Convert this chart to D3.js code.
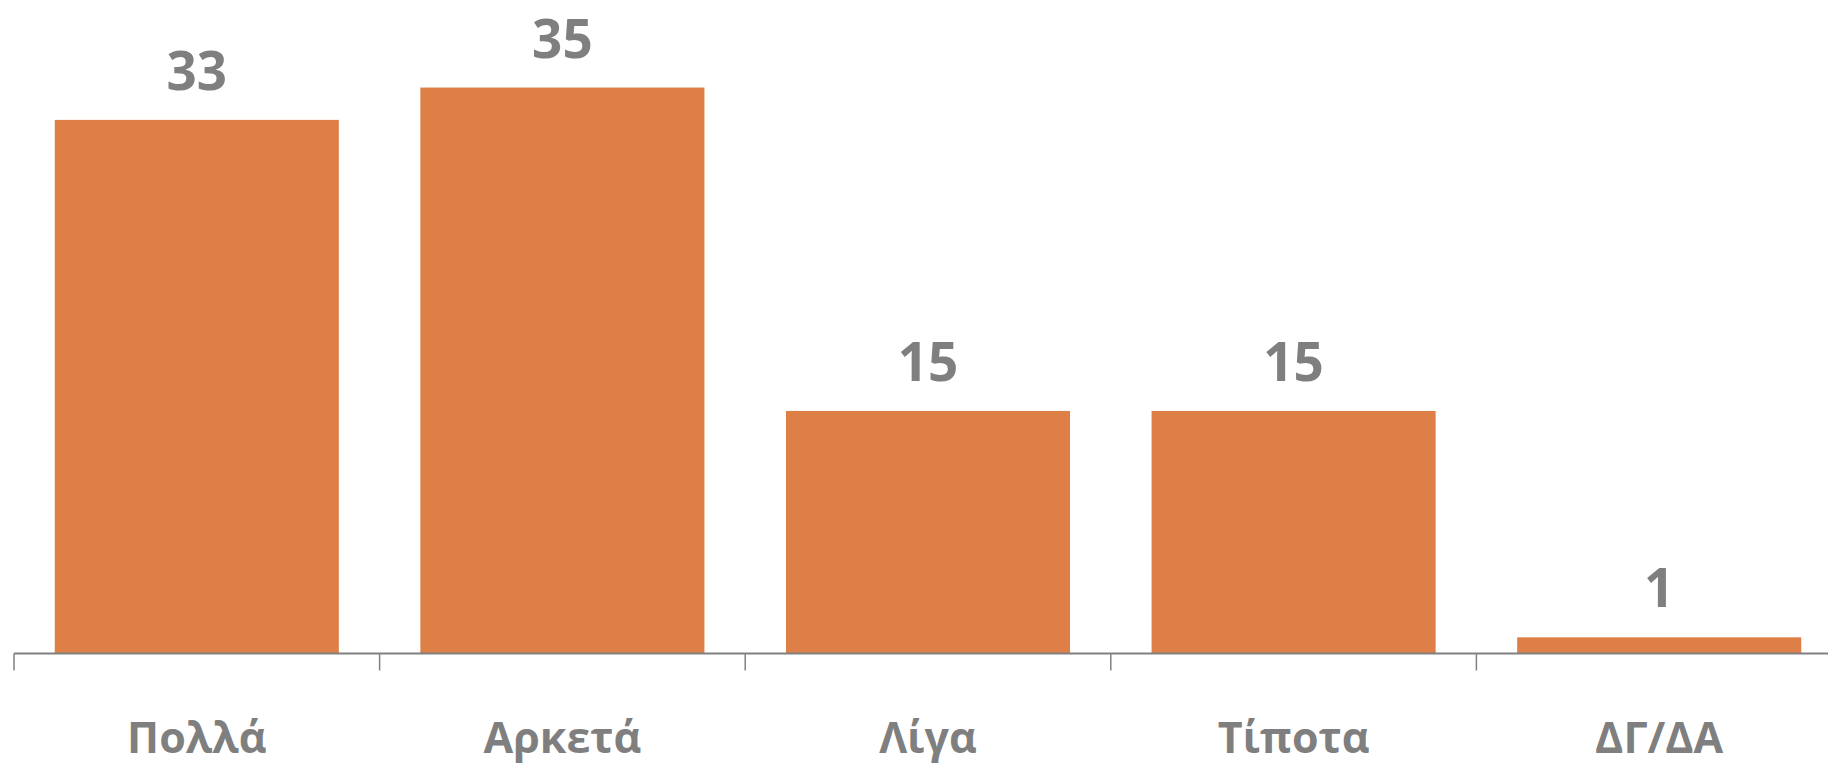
<!DOCTYPE html>
<html>
<head>
<meta charset="utf-8">
<script src="https://cdn.jsdelivr.net/npm/d3@7"></script>
<style>
  html, body { margin: 0; padding: 0; background: #fff; overflow: hidden; }
  text { font-family: "Open Sans", "Noto Sans", sans-serif; font-weight: bold; fill: #7f7f7f; }
</style>
</head>
<body>
<svg id="chart"></svg>
<script>
(function () {
    'use strict';

    var categories = ['Πολλά', 'Αρκετά', 'Λίγα', 'Τίποτα', 'ΔΓ/ΔΑ'];
    var values = [33, 35, 15, 15, 1];

    var width = 1828, height = 763;
    var axisY = 653.5;

    var svg = d3.select('#chart')
        .attr('width', width)
        .attr('height', height);

    var data = categories.map((c, i) => ({ name: c, value: values[i] }));

    // band scale runs a little past the right edge, like the original
    var x = d3.scaleBand()
        .domain(categories)
        .range([14, 1842])
        .paddingInner(0.223)
        .paddingOuter(0.1115);

    var y = d3.scaleLinear()
        .domain([0, 40])
        .range([axisY, 6.7]);

    svg.selectAll('rect.bar')
        .data(data)
        .enter()
        .append('rect')
        .attr('class', 'bar')
        .attr('x', d => x(d.name))
        .attr('width', x.bandwidth())
        .attr('y', d => y(d.value))
        .attr('height', d => y(0) - y(d.value))
        .style('fill', '#dd7f47');

    svg.selectAll('text.valueLabel')
        .data(data)
        .enter()
        .append('text')
        .attr('class', 'valueLabel')
        .attr('x', d => x(d.name) + x.bandwidth() / 2)
        .attr('y', d => y(d.value) - 30)
        .style('text-anchor', 'middle')
        .style('font-size', '53px')
        .text(d => d.value);

    // axis line + ticks between the bands
    var step = x.step();
    var x0 = x.range()[0];
    var g = svg.append('g').attr('class', 'xAxis');

    g.append('line')
        .attr('x1', x0).attr('x2', x.range()[1])
        .attr('y1', axisY).attr('y2', axisY)
        .style('stroke', '#808080')
        .style('stroke-width', 2);

    g.selectAll('line.tick')
        .data(d3.range(categories.length + 1))
        .enter()
        .append('line')
        .attr('class', 'tick')
        .attr('x1', i => x0 + i * step)
        .attr('x2', i => x0 + i * step)
        .attr('y1', axisY)
        .attr('y2', axisY + 17)
        .style('stroke', '#808080')
        .style('stroke-width', 1.5);

    svg.selectAll('text.label')
        .data(data)
        .enter()
        .append('text')
        .attr('class', 'label')
        .attr('x', d => x(d.name) + x.bandwidth() / 2)
        .attr('y', 753)
        .style('text-anchor', 'middle')
        .style('font-size', '43px')
        .text(d => d.name);
}());
</script>
</body>
</html>
